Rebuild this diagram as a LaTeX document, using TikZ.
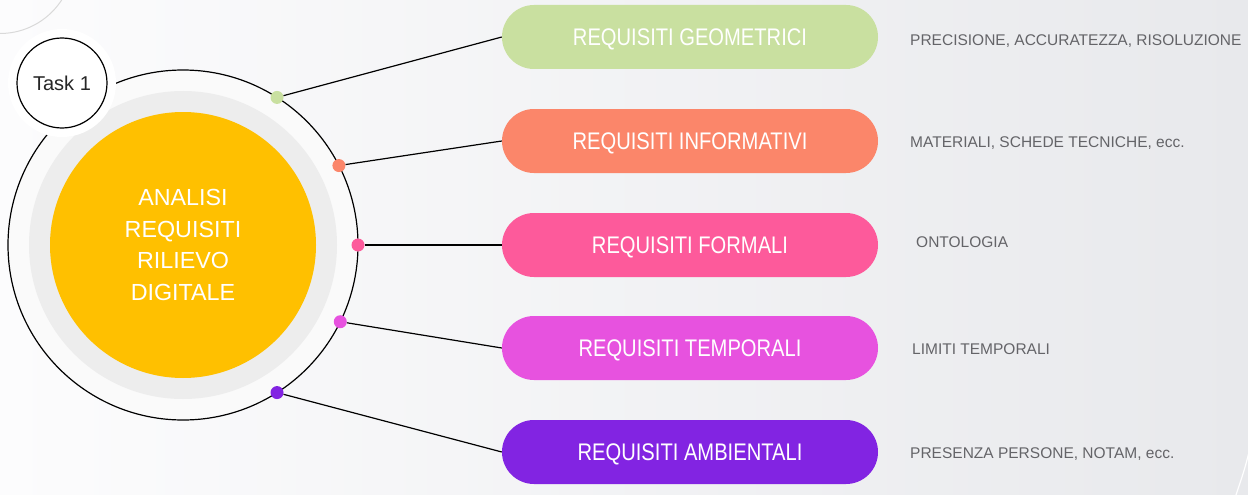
\documentclass[tikz,border=0pt]{standalone}
\usepackage{fontspec}
\usetikzlibrary{calc}
\setmainfont{Liberation Sans}
\newfontfamily\pillfont{Liberation Sans}[FakeStretch=0.84]
\definecolor{bgL}{RGB}{252,252,253}
\definecolor{bgR}{RGB}{232,233,236}
\definecolor{ringgray}{RGB}{237,237,237}
\definecolor{innerwhite}{RGB}{250,250,250}
\definecolor{cyellow}{RGB}{255,192,0}
\definecolor{cgreen}{RGB}{201,224,160}
\definecolor{corange}{RGB}{251,134,106}
\definecolor{cpink}{RGB}{253,90,155}
\definecolor{cmagenta}{RGB}{231,82,223}
\definecolor{cpurple}{RGB}{130,36,226}
\definecolor{desc}{RGB}{100,100,104}
\definecolor{arcgray}{RGB}{217,217,217}
\tikzset{
  pill/.style={rounded corners=32pt, minimum width=376pt, minimum height=64pt, inner sep=0pt,
    text=white, font=\pillfont\fontsize{24}{28}\selectfont, text height=17.2pt, text depth=0pt},
  dot/.style={circle, inner sep=0pt, minimum size=13pt},
  conn/.style={line width=1.2pt, black},
  desctext/.style={anchor=base west, text=desc, font=\fontsize{15.5}{18}\selectfont, inner sep=0pt},
}
\begin{document}
\begin{tikzpicture}[x=1pt,y=-1pt]
\useasboundingbox (0,0) rectangle (1248,495);
\shade[left color=bgL, right color=bgR] (0,0) rectangle (1248,495);
% decorative arcs
\draw[arcgray, line width=1pt] (0,-40) circle (73.5);
\draw[white, line width=1.2pt] (1250,448) .. controls (1245,468) .. (1236,495);
% central circle
\coordinate (C) at (183,245);
\fill[innerwhite] (C) circle (175);
\draw[line width=1.2pt] (C) circle (175);
\fill[ringgray] (C) circle (154);
\node[circle, fill=cyellow, minimum size=266pt, inner sep=0pt, text=white, align=center,
  font=\fontsize{23.3}{31.4}\selectfont] (main) at (C) {ANALISI\\REQUISITI\\RILIEVO\\DIGITALE};
% task circle with halo
\fill[white] (62,83) circle (54);
\node[circle, draw=black, line width=1.2pt, fill=white, minimum size=90pt, inner sep=0pt,
  font=\fontsize{20}{24}\selectfont, text=black!85] (task) at (62,83) {Task 1};
% pills
\node[pill, fill=cgreen] (p1) at (690,37) {REQUISITI GEOMETRICI};
\node[pill, fill=corange] (p2) at (690,141) {REQUISITI INFORMATIVI};
\node[pill, fill=cpink] (p3) at (690,245) {REQUISITI FORMALI};
\node[pill, fill=cmagenta] (p4) at (690,348) {REQUISITI TEMPORALI};
\node[pill, fill=cpurple] (p5) at (690,452) {REQUISITI AMBIENTALI};
% dots (y axis points down, so angles are negated)
\node[dot, fill=cgreen] (d1) at ($(C)+(-57.5:175)$) {};
\node[dot, fill=corange] (d2) at ($(C)+(-27:175)$) {};
\node[dot, fill=cpink] (d3) at ($(C)+(0:175)$) {};
\node[dot, fill=cmagenta] (d4) at ($(C)+(26:175)$) {};
\node[dot, fill=cpurple] (d5) at ($(C)+(57.5:175)$) {};
% connectors
\draw[conn] (d1) -- (p1.west);
\draw[conn] (d2) -- (p2.west);
\draw[conn] (d3) -- (p3.west);
\draw[conn] (d4) -- (p4.west);
\draw[conn] (d5) -- (p5.west);
% descriptions
\node[desctext] (t1) at (910,46) {PRECISIONE, ACCURATEZZA, RISOLUZIONE};
\node[desctext] (t2) at (910,147) {MATERIALI, SCHEDE TECNICHE, ecc.};
\node[desctext] (t3) at (916,247) {ONTOLOGIA};
\node[desctext] (t4) at (912,354) {LIMITI TEMPORALI};
\node[desctext] (t5) at (910,458) {PRESENZA PERSONE, NOTAM, ecc.};
\end{tikzpicture}
\end{document}
